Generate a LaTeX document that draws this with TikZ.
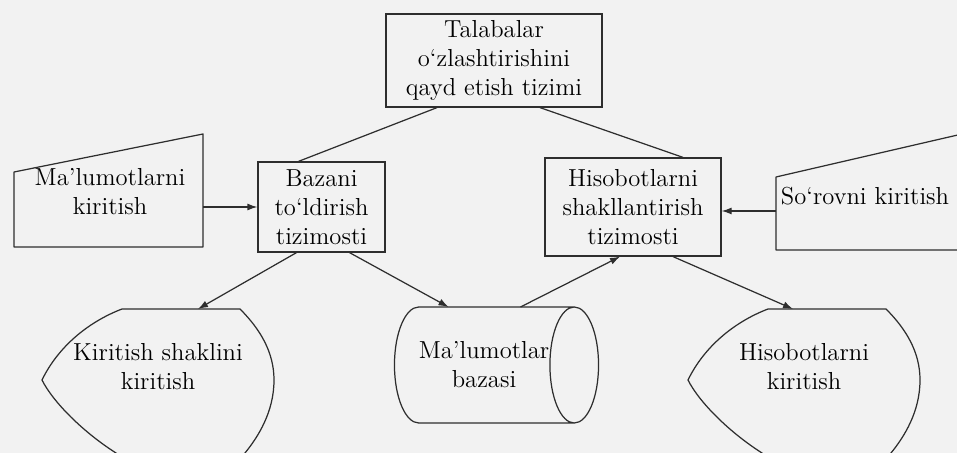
\documentclass[tikz,border=0pt]{standalone}
\usepackage{fontspec}
\usepackage{xcolor}
\usetikzlibrary{arrows.meta,positioning,shapes.geometric,calc}
\definecolor{pagebg}{HTML}{F2F2F2}
\definecolor{ink}{HTML}{2E2E2E}
\tikzset{
  sysbox/.style={rectangle, draw=ink, line width=0.7pt, inner sep=0pt,
                 align=center, font=\fontsize{14}{16.5}\selectfont, text=black},
  lbl/.style={inner sep=0pt, align=center, font=\fontsize{14}{16.5}\selectfont, text=black},
  outline/.style={draw=ink, line width=0.7pt, line join=round},
  link/.style={draw=ink, line width=0.7pt},
  arr/.style={-{Latex[length=2mm, width=1.4mm]}, draw=ink, line width=0.7pt},
}
\begin{document}
\begin{tikzpicture}[x=0.2mm, y=-0.2mm]
  \fill[pagebg] (0,0) rectangle (957,453);
  \useasboundingbox (0,0) rectangle (957,453);
  \clip (0,0) rectangle (957,453);

  % subsystems
  \node[sysbox, minimum width=43.2mm, minimum height=18.6mm] (tizim) at (494,60.5) {Talabalar\\o‘zlashtirishini\\qayd etish tizimi};
  \node[sysbox, minimum width=25.4mm, minimum height=18mm] (bazani) at (321.5,207) {Bazani\\to‘ldirish\\tizimosti};
  \node[sysbox, minimum width=35.2mm, minimum height=19.6mm] (hisobot) at (633,207) {Hisobotlarni\\shakllantirish\\tizimosti};

  % manual inputs
  \node[lbl] (malumot) at (110,192) {Ma’lumotlarni\\kiritish};
  \draw[outline] ($(malumot)+(-96,55)$) -- ++(0,-75) -- ++(189,-38) -- ++(0,113) -- cycle;
  \node[lbl] (sorov) at (865,196) {So‘rovni kiritish};
  \draw[outline] ($(sorov)+(-89,54)$) -- ++(0,-73) -- ++(199,-46) -- ++(0,119) -- cycle;

  % database
  \node[lbl, cylinder, outline, aspect=1.05, anchor=shape center,
        minimum height=33.8mm, minimum width=23.2mm] (baza) at (496.5,365) {Ma’lumotlar\\bazasi};

  % display shapes
  \node[lbl] (kirshakl) at (158,367) {Kiritish shaklini\\kiritish};
  \node[lbl] (hisobkir) at (804,367) {Hisobotlarni\\kiritish};
  \foreach \n in {kirshakl,hisobkir}
    \draw[outline, shift={(\n.center)}] (-36,-58) -- (82,-58)
      .. controls (102,-38) and (116,-15) .. (116,13)
      .. controls (116,45) and (100,70) .. (87,86)
      .. controls (70,108) and (-20,108) .. (-42,86)
      .. controls (-75,65) and (-105,35) .. (-116,13)
      .. controls (-100,-20) and (-70,-45) .. (-36,-58) -- cycle;

  % connectors
  \draw[link] ($(tizim.south)+(-57,0)$) -- ($(bazani.north)+(-23,0)$);
  \draw[link] ($(tizim.south)+(46,0)$) -- ($(hisobot.north)+(50,0)$);
  \draw[arr] ($(malumot)+(93,15)$) coordinate (m) -- (m -| bazani.west);
  \draw[arr] ($(sorov)+(-89,15)$) coordinate (s) -- (s -| hisobot.east);
  \draw[arr] ($(bazani.south)+(-25,0)$) -- ($(kirshakl)+(40,-58)$);
  \draw[arr] ($(bazani.south)+(28,0)$) -- ($(baza.shape center)+(-48,-58)$);
  \draw[arr] ($(baza.shape center)+(24,-58)$) -- ($(hisobot.south)+(-13,0)$);
  \draw[arr] ($(hisobot.south)+(40,0)$) -- ($(hisobkir)+(-11,-58)$);
\end{tikzpicture}
\end{document}
